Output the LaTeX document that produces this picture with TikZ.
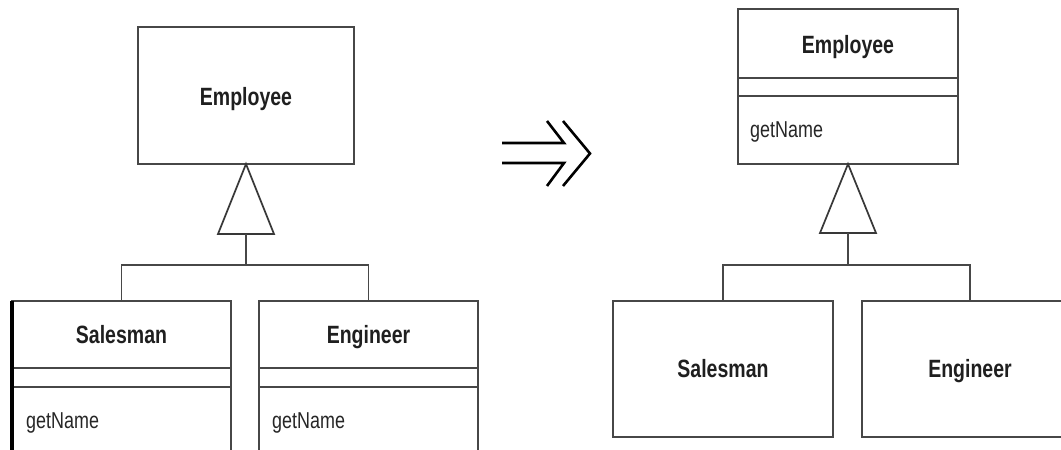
\documentclass[tikz,border=0pt]{standalone}
\usepackage{fontspec}
\setmainfont[FakeStretch=0.78]{Liberation Sans}
\begin{document}
\begin{tikzpicture}[x=1pt,y=-1pt,
  box/.style={draw=black!72, line width=2pt, inner sep=0pt, outer sep=0pt},
  cls/.style={font=\fontsize{25}{25}\selectfont\bfseries, text=black!88, inner sep=0pt, anchor=base},
  op/.style={font=\fontsize{23}{23}\selectfont, text=black!85, inner sep=0pt, anchor=base west},
  sep/.style={draw=black!72, line width=2pt},
  link/.style={draw=black!72, line width=1.7pt},
  gen/.style={draw=black!78, line width=1.7pt, fill=white, line join=miter},
  implies/.style={draw=black, line width=2.6pt}]
\useasboundingbox (0,0) rectangle (1061,450);
\clip (0,0) rectangle (1061,450);
\fill[white] (0,0) rectangle (1061,450);

% ---------------- left diagram ----------------
\node[box, minimum width=216, minimum height=137] (e1) at (246,95.5) {};
\node[cls] (e1t) at (246,105) {Employee};

\node[box, minimum width=219, minimum height=180, anchor=north] (s1) at (121.5,301) {};
\node[cls] (s1t) at (121.5,343) {Salesman};
\draw[sep] (s1.west |- 0,368) -- (s1.east |- 0,368);
\draw[sep] (s1.west |- 0,387) -- (s1.east |- 0,387);
\node[op] (s1o) at (26,428) {getName};
\draw[black, line width=4pt] (s1.north west) -- (s1.south west);

\node[box, minimum width=219, minimum height=180, anchor=north] (g1) at (368.5,301) {};
\node[cls] (g1t) at (368.5,343) {Engineer};
\draw[sep] (g1.west |- 0,368) -- (g1.east |- 0,368);
\draw[sep] (g1.west |- 0,387) -- (g1.east |- 0,387);
\node[op] (g1o) at (272,428) {getName};

\coordinate (t1l) at (218,234);
\coordinate (t1r) at (274,234);
\coordinate (t1b) at (246,234);
\coordinate (j1) at (246,265);
\draw[gen] (e1.south) -- (t1l) -- (t1r) -- cycle;
\draw[link] (t1b) -- (j1);
\draw[link] (s1.north) |- (j1) -| (g1.north);

% ---------------- arrow ----------------
\draw[implies] (547,121) -- (564,143) -- (502,143);
\draw[implies] (502,163) -- (564,163) -- (547,186);
\draw[implies] (563,121) -- (590,153.5) -- (563,186);

% ---------------- right diagram ----------------
\node[box, minimum width=220, minimum height=155] (e2) at (848,86.5) {};
\node[cls] (e2t) at (848,53) {Employee};
\draw[sep] (e2.west |- 0,78) -- (e2.east |- 0,78);
\draw[sep] (e2.west |- 0,96) -- (e2.east |- 0,96);
\node[op] (e2o) at (750,137) {getName};

\node[box, minimum width=220, minimum height=136, anchor=north] (s2) at (723,301) {};
\node[cls] (s2t) at (723,377) {Salesman};

\node[box, minimum width=216, minimum height=136, anchor=north] (g2) at (970,301) {};
\node[cls] (g2t) at (970,377) {Engineer};

\coordinate (t2l) at (820,233);
\coordinate (t2r) at (876,233);
\coordinate (t2b) at (848,233);
\coordinate (j2) at (848,265);
\draw[gen] (e2.south) -- (t2l) -- (t2r) -- cycle;
\draw[link] (t2b) -- (j2);
\draw[link] (s2.north) |- (j2) -| (g2.north);
\end{tikzpicture}
\end{document}
